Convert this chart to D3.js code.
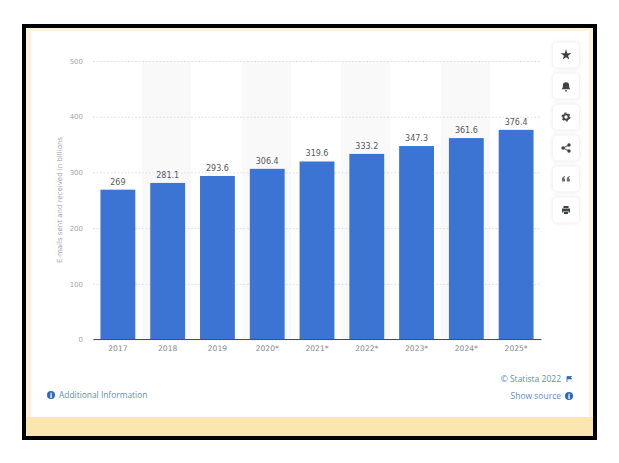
<!DOCTYPE html>
<html>
<head>
<meta charset="utf-8">
<script src="https://cdn.jsdelivr.net/npm/d3@7"></script>
<style>
  html, body { margin: 0; padding: 0; background: #fff; }
  svg { display: block; font-family: "DejaVu Sans", sans-serif; }
</style>
</head>
<body>
<div id="chart"></div>
<script>
const years = ['2017', '2018', '2019', '2020*', '2021*', '2022*', '2023*', '2024*', '2025*']
const emails = [269, 281.1, 293.6, 306.4, 319.6, 333.2, 347.3, 361.6, 376.4]
const emailLabels = ['269', '281.1', '293.6', '306.4', '319.6', '333.2', '347.3', '361.6', '376.4']
const yTicks = [0, 100, 200, 300, 400, 500]

const width = 619
const height = 463
const svg = d3.select('#chart').append('svg')
  .attr('width', width)
  .attr('height', height)

// page frame: black border, cream mat, white card
svg.append('rect').attr('x', 24).attr('y', 26).attr('width', 571).attr('height', 412)
  .attr('fill', '#fbf3dc').attr('stroke', '#000').attr('stroke-width', 4)
svg.append('rect').attr('x', 26).attr('y', 417).attr('width', 567).attr('height', 19).attr('fill', '#fae6ae')
svg.append('rect').attr('x', 31).attr('y', 31).attr('width', 558).attr('height', 386).attr('fill', '#fff')

const x = d3.scaleBand(years, [93, 541]).paddingInner(0.3).paddingOuter(0.15)
const y = d3.scaleLinear([0, 500], [339.5, 61])

// alternating column shading
svg.selectAll('.stripe')
  .data(years.filter((d, i) => i % 2 === 1))
  .join('rect')
    .attr('class', 'stripe')
    .attr('x', (d) => x(d) - x.step() * 0.165)
    .attr('width', x.step() - 0.5)
    .attr('y', y(500))
    .attr('height', y(0) - y(500))
    .attr('fill', '#f9f9fa')

// y axis with dashed grid
const yAxis = svg.append('g')
  .attr('transform', 'translate(93,0)')
  .call(d3.axisLeft(y).tickValues(yTicks).tickSize(-448).tickPadding(10))
yAxis.select('.domain').remove()
yAxis.selectAll('.tick line')
  .attr('stroke', '#d4d7db')
  .attr('stroke-width', 0.7)
  .attr('stroke-dasharray', '2 1.5')
yAxis.selectAll('.tick text')
  .attr('fill', '#a0a4a9')
  .style('font-size', '7px')
  .style('font-family', '"DejaVu Sans", sans-serif')

// bars
svg.selectAll('.bar')
  .data(emails)
  .join('rect')
    .attr('class', 'bar')
    .attr('x', (d, i) => x(years[i]))
    .attr('width', x.bandwidth())
    .attr('y', (d) => y(d))
    .attr('height', (d) => y(0) - y(d))
    .attr('fill', '#3c74d3')

// value labels
svg.selectAll('.value')
  .data(emails)
  .join('text')
    .attr('class', 'value')
    .attr('x', (d, i) => x(years[i]) + x.bandwidth() / 2)
    .attr('y', (d) => y(d) - 5)
    .attr('text-anchor', 'middle')
    .attr('fill', '#55585d')
    .style('font-size', '8px')
    .text((d, i) => emailLabels[i])

// x axis
const xAxis = svg.append('g')
  .attr('transform', 'translate(0,339)')
  .call(d3.axisBottom(x).tickSize(0).tickPadding(7))
xAxis.select('.domain').attr('stroke', '#4b4f55').attr('stroke-width', 1)
xAxis.selectAll('.tick text')
  .attr('fill', '#85898e')
  .style('font-size', '7.6px')
  .style('font-family', '"DejaVu Sans", sans-serif')

svg.append('text')
  .attr('transform', 'translate(62,200) rotate(-90)')
  .attr('text-anchor', 'middle')
  .attr('fill', '#a0a4a9')
  .style('font-size', '7px')
  .text('E-mails sent and received in billions')

// footer links
const linkBlue = '#5f8cc6'
const badge = (cx, cy) => {
  svg.append('circle').attr('cx', cx).attr('cy', cy).attr('r', 4).attr('fill', '#2f68b8')
  svg.append('text').attr('x', cx).attr('y', cy + 2.5).attr('text-anchor', 'middle')
    .attr('fill', '#fff').style('font-size', '7px').style('font-weight', 700).text('i')
}
badge(51, 395)
svg.append('text').attr('x', 59).attr('y', 398).attr('fill', linkBlue)
  .style('font-family', '"Open Sans", sans-serif')
  .style('font-size', '8.4px').text('Additional Information')
svg.append('text').attr('x', 561).attr('y', 382).attr('text-anchor', 'end').attr('fill', linkBlue)
  .style('font-family', '"Open Sans", sans-serif')
  .style('font-size', '8.5px').text('© Statista 2022')
svg.append('path').attr('d', 'M567 376.5v5.5M567 376.5h4.5l-1 1.2 1 1.2h-4.5').attr('fill', '#2f68b8').attr('stroke', '#2f68b8').attr('stroke-width', 0.8)
svg.append('text').attr('x', 561).attr('y', 399).attr('text-anchor', 'end').attr('fill', linkBlue)
  .style('font-family', '"Open Sans", sans-serif')
  .style('font-size', '8.5px').text('Show source')
badge(569, 396)

// toolbar buttons
const iconColor = '#3e4347'
const icons = [
  (g) => g.append('path').attr('d', d3.symbol(d3.symbolStar, 36)()).attr('fill', iconColor),
  (g) => g.append('path').attr('transform', 'scale(1.25)').attr('d', 'M-3.5 2.5c1-1 1-2 1-3a2.5 2.5 0 0 1 5 0c0 1 0 2 1 3zM-1 3.3h2a1 1 0 0 1-2 0z').attr('fill', iconColor),
  (g) => {
    g.append('circle').attr('r', 2.6).attr('fill', 'none').attr('stroke', iconColor).attr('stroke-width', 1.8)
    g.append('circle').attr('r', 3.9).attr('fill', 'none').attr('stroke', iconColor).attr('stroke-width', 1.2).attr('stroke-dasharray', '2 2.08')
  },
  (g) => {
    g.append('path').attr('d', 'M3-3L-3 0L3 3').attr('fill', 'none').attr('stroke', iconColor).attr('stroke-width', 1)
    g.selectAll('circle').data([[3, -3], [-3, 0], [3, 3]]).join('circle')
      .attr('cx', (d) => d[0]).attr('cy', (d) => d[1]).attr('r', 1.7).attr('fill', iconColor)
  },
  (g) => g.append('path').attr('d', 'M-4 2.5v-2.5q0-2.5 3-3v1q-1 .3-1 1.5h1v3zM.8 2.5v-2.5q0-2.5 3-3v1q-1 .3-1 1.5h1v3z').attr('fill', '#6b7075'),
  (g) => g.append('path').attr('d', 'M-2.5-4h5v2h-5zM-4-1.5h8v4h-1.5v-1.5h-5v1.5h-1.5zM-2 1.5h4v2.5h-4z').attr('fill', iconColor)
]
const buttons = svg.selectAll('.btn')
  .data(icons)
  .join('g')
    .attr('class', 'btn')
    .attr('transform', (d, i) => `translate(566,${55 + i * 31})`)
buttons.append('rect')
  .attr('x', -13).attr('y', -12.5).attr('width', 26).attr('height', 25).attr('rx', 4)
  .attr('fill', '#fff')
  .style('filter', 'drop-shadow(0 0 2px rgba(40,50,70,0.14))')
buttons.each(function (draw) { draw(d3.select(this).append('g')) })
</script>
</body>
</html>
